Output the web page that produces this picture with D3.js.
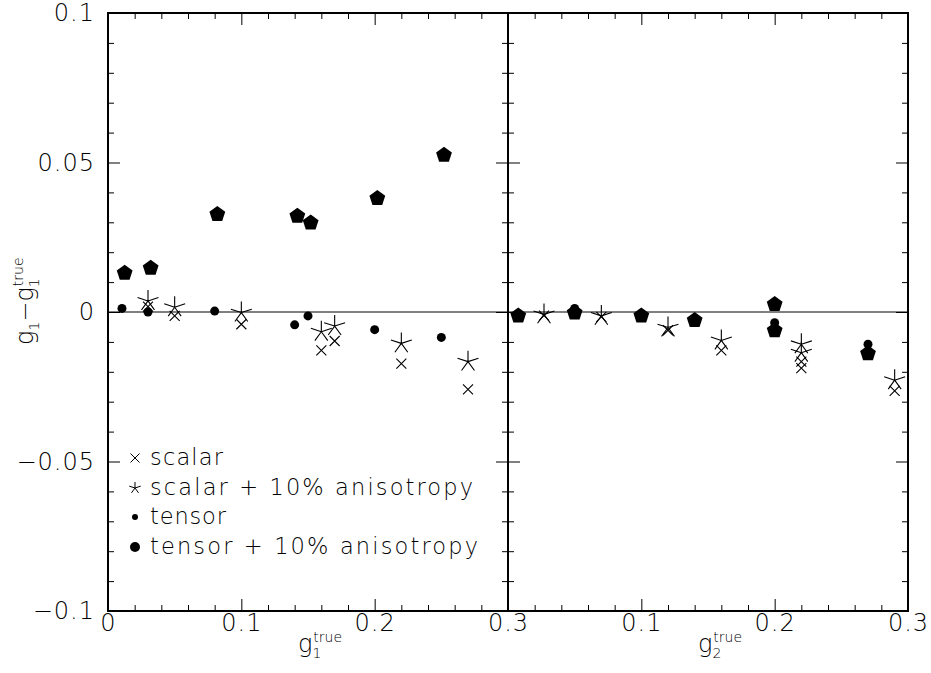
<!DOCTYPE html>
<html>
<head>
<meta charset="utf-8">
<script src="https://cdn.jsdelivr.net/npm/d3@7"></script>
<style>
body { margin: 0; background: #fff; }
svg text { font-family: "DejaVu Sans", sans-serif; font-weight: 200; fill: #000; }
</style>
</head>
<body>
<div id="chart"></div>
<script>
var width = 931, height = 673;
var frame = { left: 108, mid: 508, right: 908, top: 13, bottom: 611 };

// left panel (g1)
const G1_SCALAR_X = [0.03, 0.05, 0.10, 0.16, 0.17, 0.22, 0.27];
const G1_SCALAR_Y = [0.0018, -0.0013, -0.0041, -0.0128, -0.0097, -0.0173, -0.0259];
const G1_SCALAR_ANI_X = [0.03, 0.05, 0.10, 0.16, 0.17, 0.22, 0.27];
const G1_SCALAR_ANI_Y = [0.0037, 0.0016, -0.0002, -0.0066, -0.0047, -0.0105, -0.0166];
const G1_TENSOR_X = [0.0105, 0.03, 0.08, 0.14, 0.15, 0.20, 0.25];
const G1_TENSOR_Y = [0.0012, 0.0000, 0.0003, -0.0043, -0.0013, -0.0059, -0.0085];
const G1_TENSOR_ANI_X = [0.0125, 0.032, 0.082, 0.142, 0.152, 0.202, 0.252];
const G1_TENSOR_ANI_Y = [0.0130, 0.0147, 0.0327, 0.0321, 0.0298, 0.0380, 0.0525];

// right panel (g2)
const G2_SCALAR_X = [0.027, 0.07, 0.12, 0.16, 0.22, 0.22, 0.29];
const G2_SCALAR_Y = [-0.0012, -0.0016, -0.0061, -0.0128, -0.0166, -0.0188, -0.0264];
const G2_SCALAR_ANI_X = [0.027, 0.07, 0.12, 0.16, 0.22, 0.22, 0.29];
const G2_SCALAR_ANI_Y = [-0.0008, -0.0013, -0.0052, -0.0095, -0.0108, -0.0136, -0.0228];
const G2_TENSOR_X = [0.0077, 0.05, 0.10, 0.14, 0.20, 0.27];
const G2_TENSOR_Y = [-0.0011, 0.0012, -0.0012, -0.0026, -0.0036, -0.0108];
const G2_TENSOR_ANI_X = [0.0077, 0.05, 0.10, 0.14, 0.20, 0.20, 0.27];
const G2_TENSOR_ANI_Y = [-0.0013, -0.0003, -0.0013, -0.0028, 0.0026, -0.0062, -0.0139];

const LEGEND_LABELS = ["scalar", "scalar + 10% anisotropy", "tensor", "tensor + 10% anisotropy"];
const LEGEND_WIDTHS = [73, 323, 76, 328];

const Y_TICKS = [-0.1, -0.05, 0, 0.05, 0.1];
const Y_TICK_LABELS = ["\u22120.1", "\u22120.05", "0", "0.05", "0.1"];
const X_TICKS = [0, 0.1, 0.2, 0.3];
const X1_TICK_LABELS = ["0", "0.1", "0.2", "0.3"];
const X2_TICK_LABELS = ["", "0.1", "0.2", "0.3"];

var xL = d3.scaleLinear().domain([0, 0.3]).range([frame.left, frame.mid]);
var xR = d3.scaleLinear().domain([0, 0.3]).range([frame.mid, frame.right]);
var y = d3.scaleLinear().domain([-0.1, 0.1]).range([frame.bottom, frame.top]);

var svg = d3.select("#chart").append("svg")
	.attr("width", width)
	.attr("height", height);

// marker shapes
function pentagon(r) {
	var pts = d3.range(5).map(function (k) {
		var a = (-90 + k * 72) * Math.PI / 180;
		return [r * Math.cos(a), r * Math.sin(a)];
	});
	return "M" + pts.join("L") + "Z";
}
function asterisk(r) {
	return d3.range(5).map(function (k) {
		var a = (-90 + k * 72) * Math.PI / 180;
		return "M0,0L" + r * Math.cos(a) + "," + r * Math.sin(a);
	}).join("");
}
function cross(r) {
	return "M" + -r + "," + -r + "L" + r + "," + r + "M" + -r + "," + r + "L" + r + "," + -r;
}

function drawMarks(xs, ys, x, kind, size) {
	var pts = xs.map(function (d, i) { return [d, ys[i]]; });
	var sel = svg.append("g").selectAll("path")
		.data(pts)
		.enter()
		.append("path")
		.attr("transform", function (d) { return "translate(" + x(d[0]) + "," + y(d[1]) + ")"; });
	if (kind === "cross") {
		sel.attr("d", cross(size)).attr("stroke", "#000").attr("stroke-width", 1.1).attr("fill", "none");
	} else if (kind === "asterisk") {
		sel.attr("d", asterisk(size)).attr("stroke", "#000").attr("stroke-width", 1.1).attr("fill", "none");
	} else if (kind === "dot") {
		sel.attr("d", d3.symbol().type(d3.symbolCircle).size(Math.PI * size * size)).attr("fill", "#000");
	} else {
		sel.attr("d", pentagon(size)).attr("fill", "#000");
	}
}

// zero line
svg.append("line")
	.attr("x1", frame.left).attr("x2", frame.right)
	.attr("y1", y(0)).attr("y2", y(0))
	.attr("stroke", "#000").attr("stroke-width", 1);

// ticks
var yMinor = d3.range(-10, 11).map(function (d) { return d / 100; }).filter(function (d, i) { return i % 5 !== 0; });
var yMajor = Y_TICKS;
var xMinor = d3.range(0, 16).map(function (d) { return d / 50; }).filter(function (d, i) { return i % 5 !== 0; });
var xMajor = [0.1, 0.2];

function ticks(axis, vals, size, tx, ty) {
	svg.append("g")
		.attr("transform", "translate(" + tx + "," + ty + ")")
		.call(axis.tickValues(vals).tickSizeInner(size).tickSizeOuter(0).tickFormat(""))
		.call(function (g) { g.select(".domain").remove(); })
		.selectAll("line").attr("stroke", "#000").attr("stroke-width", 1);
}
[[yMinor, 6], [yMajor, 12]].forEach(function (t) {
	ticks(d3.axisRight(y), t[0], t[1], frame.left, 0);
	ticks(d3.axisLeft(y), t[0], t[1], frame.mid, 0);
	ticks(d3.axisRight(y), t[0], t[1], frame.mid, 0);
	ticks(d3.axisLeft(y), t[0], t[1], frame.right, 0);
});
[[xMinor, 6], [xMajor, 12]].forEach(function (t) {
	[xL, xR].forEach(function (x) {
		ticks(d3.axisTop(x), t[0], t[1], 0, frame.bottom);
		ticks(d3.axisBottom(x), t[0], t[1], 0, frame.top);
	});
});

// frame
svg.append("rect")
	.attr("x", frame.left).attr("y", frame.top)
	.attr("width", frame.right - frame.left).attr("height", frame.bottom - frame.top)
	.attr("fill", "none").attr("stroke", "#000").attr("stroke-width", 2);
svg.append("line")
	.attr("x1", frame.mid).attr("x2", frame.mid)
	.attr("y1", frame.top).attr("y2", frame.bottom)
	.attr("stroke", "#000").attr("stroke-width", 2);

// tick labels
svg.append("g")
	.attr("transform", "translate(" + frame.left + ",0)")
	.call(d3.axisLeft(y).tickValues(Y_TICKS).tickSize(0).tickPadding(13)
		.tickFormat(function (d, i) { return Y_TICK_LABELS[i]; }))
	.call(function (g) { g.select(".domain").remove(); })
	.selectAll("text").style("font-size", "24px").attr("letter-spacing", "1px")
	.attr("font-family", null);

[[xL, X1_TICK_LABELS], [xR, X2_TICK_LABELS]].forEach(function (p) {
	svg.append("g")
		.attr("transform", "translate(0," + frame.bottom + ")")
		.call(d3.axisBottom(p[0]).tickValues(X_TICKS).tickSize(0).tickPadding(3)
			.tickFormat(function (d, i) { return p[1][i]; }))
		.call(function (g) { g.select(".domain").remove(); })
		.selectAll("text").style("font-size", "24px").attr("letter-spacing", "1px")
		.attr("font-family", null);
});

// axis titles
function gLabel(sel, sub) {
	sel.append("tspan").text("g");
	sel.append("tspan").attr("dy", 6).style("font-size", "14px").text(sub);
	sel.append("tspan").attr("dx", -8).attr("dy", -16).style("font-size", "14px").text("true");
}
gLabel(svg.append("text").attr("x", 298).attr("y", 652).style("font-size", "24px"), "1");
gLabel(svg.append("text").attr("x", 698).attr("y", 652).style("font-size", "24px"), "2");

var yt = svg.append("text")
	.attr("transform", "translate(33,345) rotate(-90)")
	.style("font-size", "24px");
yt.append("tspan").text("g");
yt.append("tspan").attr("dy", 6).style("font-size", "14px").text("1");
yt.append("tspan").attr("dy", -6).text("\u2212g");
yt.append("tspan").attr("dy", 6).style("font-size", "14px").text("1");
yt.append("tspan").attr("dx", -8).attr("dy", -16).style("font-size", "14px").text("true");

// data marks
drawMarks(G1_TENSOR_ANI_X, G1_TENSOR_ANI_Y, xL, "pentagon", 8.3);
drawMarks(G1_TENSOR_X, G1_TENSOR_Y, xL, "dot", 4.5);
drawMarks(G1_SCALAR_X, G1_SCALAR_Y, xL, "cross", 5);
drawMarks(G1_SCALAR_ANI_X, G1_SCALAR_ANI_Y, xL, "asterisk", 11);
drawMarks(G2_TENSOR_ANI_X, G2_TENSOR_ANI_Y, xR, "pentagon", 8.3);
drawMarks(G2_TENSOR_X, G2_TENSOR_Y, xR, "dot", 4.5);
drawMarks(G2_SCALAR_X, G2_SCALAR_Y, xR, "cross", 5);
drawMarks(G2_SCALAR_ANI_X, G2_SCALAR_ANI_Y, xR, "asterisk", 11);

// legend
var legendKinds = [["cross", 4.5], ["asterisk", 6], ["dot", 3], ["pentagon", 5.5]];
var legendRowY = [458, 488, 517, 547];
var legend = svg.append("g");
legendKinds.forEach(function (k, i) {
	var m = legend.append("path")
		.attr("transform", "translate(135," + legendRowY[i] + ")");
	if (k[0] === "cross") m.attr("d", cross(k[1])).attr("stroke", "#000").attr("fill", "none");
	else if (k[0] === "asterisk") m.attr("d", asterisk(k[1])).attr("stroke", "#000").attr("fill", "none");
	else if (k[0] === "dot") m.attr("d", d3.symbol().type(d3.symbolCircle).size(Math.PI * 9)).attr("fill", "#000");
	else m.attr("d", d3.symbol().type(d3.symbolCircle).size(Math.PI * 25)).attr("fill", "#000");
	legend.append("text")
		.attr("x", 150).attr("y", legendRowY[i] + 7)
		.attr("textLength", LEGEND_WIDTHS[i])
		.style("font-size", "22.5px")
		.text(LEGEND_LABELS[i]);
});
</script>
</body>
</html>
